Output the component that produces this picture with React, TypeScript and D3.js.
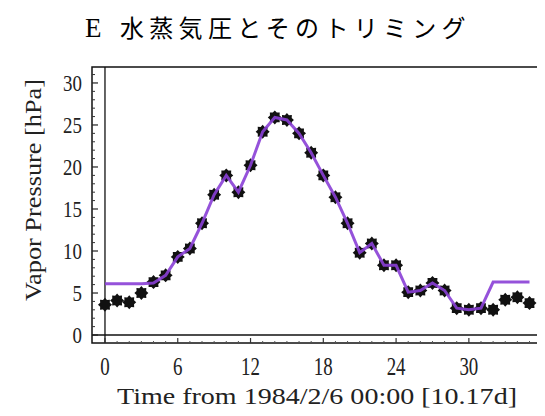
import React, { useEffect, useRef } from 'react';
import * as d3 from 'd3';

// hours/… index along the x axis
const times = d3.range(0, 36);
// observed vapor pressure [hPa]
const vapor = [
  3.6, 4.1, 3.9, 5.0, 6.3, 7.1, 9.3, 10.3, 13.3, 16.7, 19.0, 17.0,
  20.2, 24.2, 25.9, 25.6, 24.0, 21.7, 19.0, 16.4, 13.3, 9.8, 10.9, 8.3,
  8.3, 5.1, 5.3, 6.2, 5.3, 3.2, 3.0, 3.2, 3.0, 4.2, 4.5, 3.8,
];
// trimmed series
const trimmed = [
  6.1, 6.1, 6.1, 6.1, 6.2, 7.1, 9.3, 10.3, 13.3, 16.7, 19.0, 17.0,
  20.2, 24.2, 25.9, 25.6, 24.0, 21.7, 19.0, 16.4, 13.3, 9.8, 10.9, 8.3,
  8.3, 5.1, 5.3, 6.2, 5.3, 3.2, 3.0, 3.2, 6.3, 6.3, 6.3, 6.3,
];
const yTicks = [0, 5, 10, 15, 20, 25, 30];
const xTicks = [0, 6, 12, 18, 24, 30];

const title = '水蒸気圧とそのトリミング';
const xTitle = 'Time from 1984/2/6 00:00 [10.17d]';
const yTitle = 'Vapor Pressure [hPa]';

const App = () => {
  const svgRef = useRef<SVGSVGElement>(null);

  useEffect(() => {
    const width = 545;
    const height = 416;
    const left = 92, right = 538, top = 67, bottom = 343;

    const x = d3.scaleLinear().domain([-1.07, 35.7]).range([left, right]);
    const y = d3.scaleLinear().domain([-0.95, 31.9]).range([bottom, top]);

    const svg = d3.select(svgRef.current)
      .attr('width', width)
      .attr('height', height)
      .attr('viewBox', `0 0 ${width} ${height}`);
    svg.selectAll('*').remove();

    svg.append('rect').attr('width', width).attr('height', height).attr('fill', '#fff');

    // title
    const t = svg.append('text')
      .attr('x', 85).attr('y', 37)
      .attr('font-size', 24)
      .attr('fill', '#000');
    t.append('tspan').attr('font-family', 'Liberation Serif, serif')
      .attr('font-size', 27).text('E');
    t.append('tspan').attr('x', 120)
      .attr('font-family', '"Noto Sans CJK JP", sans-serif')
      .attr('letter-spacing', 5.3)
      .text(title);

    // frame
    svg.append('rect')
      .attr('x', left).attr('y', top)
      .attr('width', right - left).attr('height', bottom - top)
      .attr('fill', 'none').attr('stroke', '#111').attr('stroke-width', 1.5);

    // zero axes
    svg.append('line')
      .attr('x1', x(0)).attr('x2', x(0)).attr('y1', top).attr('y2', bottom)
      .attr('stroke', '#111').attr('stroke-width', 1.3);
    svg.append('line')
      .attr('x1', left).attr('x2', right).attr('y1', y(0)).attr('y2', y(0))
      .attr('stroke', '#111').attr('stroke-width', 1.3);

    // y ticks (inward)
    const yMinor = d3.range(0, 32).filter(v => v % 5 !== 0);
    svg.append('g').selectAll('line').data(yMinor).join('line')
      .attr('x1', left).attr('x2', left + 3)
      .attr('y1', d => y(d)).attr('y2', d => y(d))
      .attr('stroke', '#333').attr('stroke-width', 1);
    svg.append('g').selectAll('line').data(yTicks).join('line')
      .attr('x1', left).attr('x2', left + 6)
      .attr('y1', d => y(d)).attr('y2', d => y(d))
      .attr('stroke', '#222').attr('stroke-width', 1.2);
    svg.append('g').selectAll('text').data(yTicks).join('text')
      .attr('transform', d => `translate(82,${y(d) + 8}) scale(0.9,1.12)`)
      .attr('text-anchor', 'end')
      .attr('font-family', 'Liberation Serif, serif')
      .attr('font-size', 21)
      .attr('fill', '#222')
      .text(d => d);

    // x ticks (inward)
    const xMinor = d3.range(0, 36).filter(v => v % 6 !== 0);
    svg.append('g').selectAll('line').data(xMinor).join('line')
      .attr('x1', d => x(d)).attr('x2', d => x(d))
      .attr('y1', bottom).attr('y2', bottom - 2)
      .attr('stroke', '#555').attr('stroke-width', 1);
    svg.append('g').selectAll('line').data(xTicks).join('line')
      .attr('x1', d => x(d)).attr('x2', d => x(d))
      .attr('y1', bottom).attr('y2', bottom - 5)
      .attr('stroke', '#333').attr('stroke-width', 1.2);
    svg.append('g').selectAll('text').data(xTicks).join('text')
      .attr('transform', d => `translate(${x(d)},375) scale(0.9,1.15)`)
      .attr('text-anchor', 'middle')
      .attr('font-family', 'Liberation Serif, serif')
      .attr('font-size', 21)
      .attr('fill', '#222')
      .text(d => d);

    // axis titles
    svg.append('text')
      .attr('x', 317).attr('y', 404)
      .attr('text-anchor', 'middle')
      .attr('font-family', 'Liberation Serif, serif')
      .attr('font-size', 23)
      .attr('textLength', 400)
      .attr('lengthAdjust', 'spacingAndGlyphs')
      .attr('fill', '#222')
      .text(xTitle);
    svg.append('text')
      .attr('transform', `translate(41,190) rotate(-90)`)
      .attr('text-anchor', 'middle')
      .attr('font-family', 'Liberation Serif, serif')
      .attr('font-size', 23)
      .attr('textLength', 222)
      .attr('lengthAdjust', 'spacingAndGlyphs')
      .attr('fill', '#222')
      .text(yTitle);

    // jagged blob marker
    const blob = d3.lineRadial<number>()
      .angle((_, i) => (i * Math.PI) / 8)
      .radius(d => d)
      .curve(d3.curveLinearClosed)(d3.range(16).map(i => (i % 2 ? 5.2 : 7)));

    svg.append('g').selectAll('path').data(times).join('path')
      .attr('transform', (d, i) => `translate(${x(d)},${y(vapor[i])})`)
      .attr('d', blob as string)
      .attr('fill', '#111');

    // trimmed line
    const line = d3.line<number>()
      .x(d => x(d))
      .y((_, i) => y(trimmed[i]));
    svg.append('path')
      .datum(times)
      .attr('fill', 'none')
      .attr('stroke', '#8a3fd6')
      .attr('stroke-width', 3)
      .attr('stroke-opacity', 0.9)
      .attr('d', line);
  }, []);

  return (
    <div style={{ margin: -8 }}>
      <svg ref={svgRef} style={{ display: 'block' }}></svg>
    </div>
  );
};

export default App;
